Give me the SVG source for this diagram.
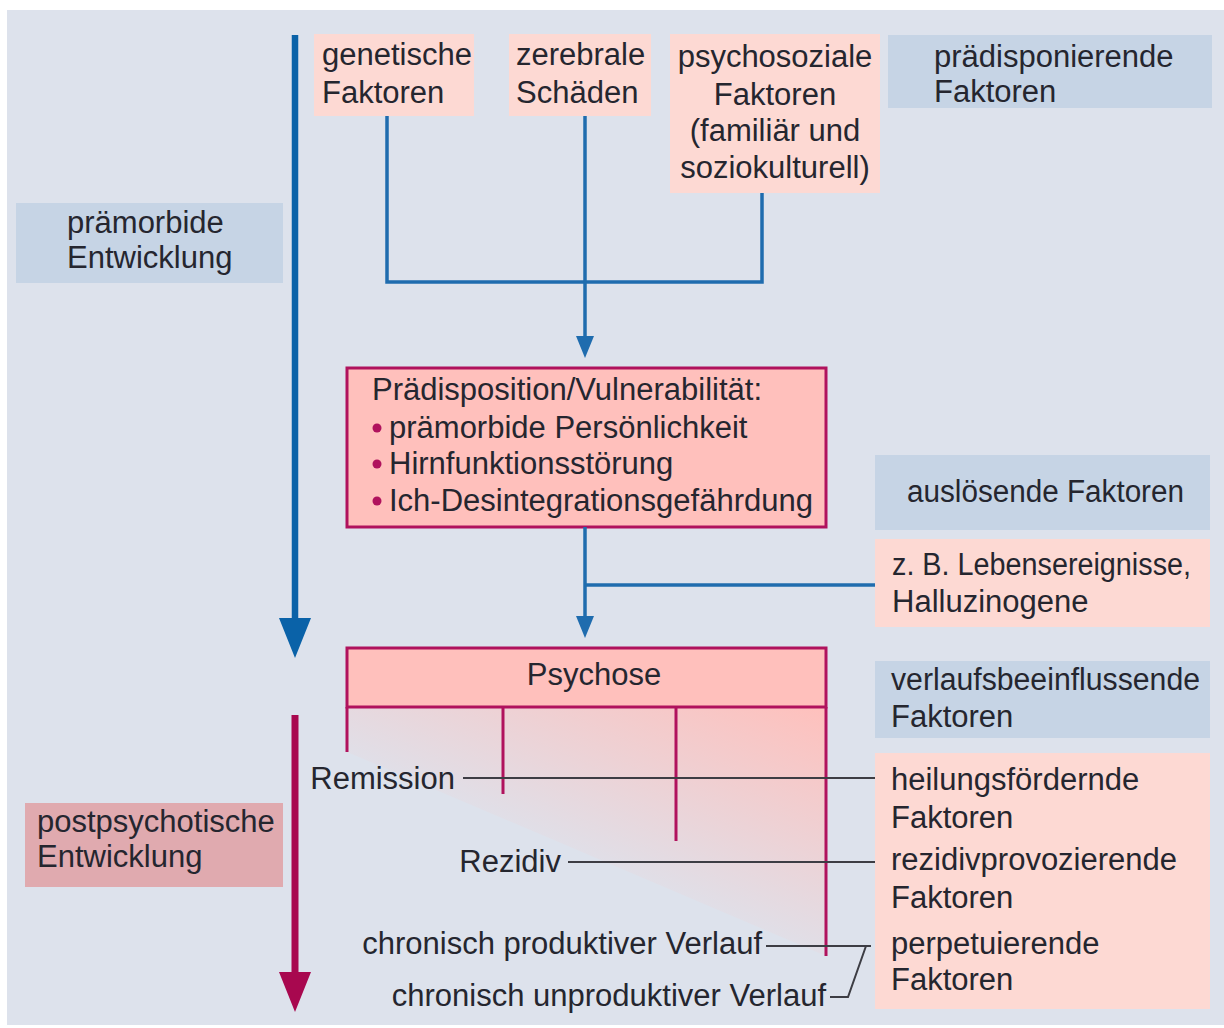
<svg xmlns="http://www.w3.org/2000/svg" width="1224" height="1028" viewBox="0 0 1224 1028">
<defs>
<style>
text{font-family:"Liberation Sans",Arial,sans-serif;font-size:31px;fill:#25262f}
.salmon{fill:#fdd9d3}
.bluebox{fill:#c6d4e5}
.blue{stroke:#1f6cae;stroke-width:3.5;fill:none}
.thick{stroke:#0a62a8;stroke-width:6.5;fill:none}
.mag{stroke:#b0125d;stroke-width:3;fill:none}
.gray{stroke:#3d3d44;stroke-width:2;fill:none}
.pinkbox{fill:#ffc0bc;stroke:#b0125d;stroke-width:3}
</style>
<linearGradient id="fade" gradientUnits="userSpaceOnUse" x1="826" y1="706" x2="735" y2="918">
<stop offset="0" stop-color="#ffc0bc" stop-opacity="1"/>
<stop offset="1" stop-color="#ffc0bc" stop-opacity="0.1"/>
</linearGradient>
</defs>
<rect x="0" y="0" width="1224" height="1028" fill="#ffffff"/>
<rect x="7" y="10" width="1217" height="1015" fill="#dde2ec"/>

<g id="fade-area">
<polygon points="347,706 826,706 826,956 347,752" fill="url(#fade)"/>
</g>

<g id="praemorbide">
<rect x="16" y="203" width="267" height="80" class="bluebox"/>
<text x="67" y="233">prämorbide</text>
<text x="67" y="268">Entwicklung</text>
</g>

<g id="postpsychotische">
<rect x="25" y="803" width="258" height="84" fill="#e0aaaf"/>
<text x="37" y="832">postpsychotische</text>
<text x="37" y="867">Entwicklung</text>
</g>

<g id="genetische">
<rect x="314" y="34" width="160" height="82" class="salmon"/>
<text x="322" y="65">genetische</text>
<text x="322" y="103">Faktoren</text>
</g>

<g id="zerebrale">
<rect x="509" y="34" width="142" height="82" class="salmon"/>
<text x="516" y="65">zerebrale</text>
<text x="516" y="103">Schäden</text>
</g>

<g id="psychosoziale">
<rect x="670" y="34" width="210" height="159" class="salmon"/>
<text x="775" y="67" text-anchor="middle">psychosoziale</text>
<text x="775" y="105" text-anchor="middle">Faktoren</text>
<text x="775" y="141" text-anchor="middle">(familiär und</text>
<text x="775" y="178" text-anchor="middle">soziokulturell)</text>
</g>

<g id="praedisponierende">
<rect x="888" y="35" width="324" height="73" class="bluebox"/>
<text x="934" y="67">prädisponierende</text>
<text x="934" y="102">Faktoren</text>
</g>

<g id="praedisposition">
<rect x="347" y="368" width="479" height="159" class="pinkbox"/>
<text x="372" y="400">Prädisposition/Vulnerabilität:</text>
<circle cx="377" cy="428" r="4.5" fill="#b0125d"/>
<text x="389" y="438">prämorbide Persönlichkeit</text>
<circle cx="377" cy="464" r="4.5" fill="#b0125d"/>
<text x="389" y="474">Hirnfunktionsstörung</text>
<circle cx="377" cy="501" r="4.5" fill="#b0125d"/>
<text x="389" y="511">Ich-Desintegrationsgefährdung</text>
</g>

<g id="ausloesende">
<rect x="875" y="455" width="335" height="75" class="bluebox"/>
<text x="907" y="502" textLength="277" lengthAdjust="spacingAndGlyphs">auslösende Faktoren</text>
</g>

<g id="zb">
<rect x="875" y="539" width="335" height="88" class="salmon"/>
<text x="892" y="575" textLength="299" lengthAdjust="spacingAndGlyphs">z. B. Lebensereignisse,</text>
<text x="892" y="612">Halluzinogene</text>
</g>

<g id="verlaufs">
<rect x="875" y="661" width="335" height="77" class="bluebox"/>
<text x="891" y="690" textLength="309" lengthAdjust="spacingAndGlyphs">verlaufsbeeinflussende</text>
<text x="891" y="727">Faktoren</text>
</g>

<g id="faktoren-rechts">
<rect x="875" y="753" width="335" height="256" class="salmon"/>
<text x="891" y="790">heilungsfördernde</text>
<text x="891" y="828">Faktoren</text>
<text x="891" y="870">rezidivprovozierende</text>
<text x="891" y="908">Faktoren</text>
<text x="891" y="954">perpetuierende</text>
<text x="891" y="990">Faktoren</text>
</g>

<g id="psychose">
<rect x="347" y="648" width="479" height="59" class="pinkbox"/>
<text x="594" y="685" text-anchor="middle">Psychose</text>
</g>

<g id="verlauf-labels">
<text x="455" y="789" text-anchor="end">Remission</text>
<text x="561" y="872" text-anchor="end">Rezidiv</text>
<text x="762" y="954" text-anchor="end">chronisch produktiver Verlauf</text>
<text x="826" y="1006" text-anchor="end">chronisch unproduktiver Verlauf</text>
</g>

<g id="connectors">
<line x1="295" y1="35" x2="295" y2="622" class="thick"/>
<polygon points="279,618 311,618 295,658" fill="#0a62a8"/>
<line x1="295" y1="715" x2="295" y2="976" stroke="#a8084f" stroke-width="7"/>
<polygon points="279,972 311,972 295,1012" fill="#a8084f"/>

<polyline points="387,116 387,282 762,282 762,193" class="blue"/>
<line x1="585" y1="116" x2="585" y2="340" class="blue"/>
<polygon points="576,336 594,336 585,358" fill="#1f6cae"/>
<line x1="585" y1="527" x2="585" y2="620" class="blue"/>
<polygon points="576,616 594,616 585,638" fill="#1f6cae"/>
<line x1="585" y1="585" x2="875" y2="585" class="blue"/>

<line x1="347" y1="707" x2="347" y2="752" class="mag"/>
<line x1="503" y1="707" x2="503" y2="794" class="mag"/>
<line x1="676" y1="707" x2="676" y2="841" class="mag"/>
<line x1="826" y1="707" x2="826" y2="956" class="mag"/>

<line x1="463" y1="778" x2="875" y2="778" class="gray"/>
<line x1="568" y1="862" x2="875" y2="862" class="gray"/>
<line x1="766" y1="946" x2="871" y2="946" class="gray"/>
<polyline points="866,946 848,997 830,997" class="gray"/>
</g>
</svg>
